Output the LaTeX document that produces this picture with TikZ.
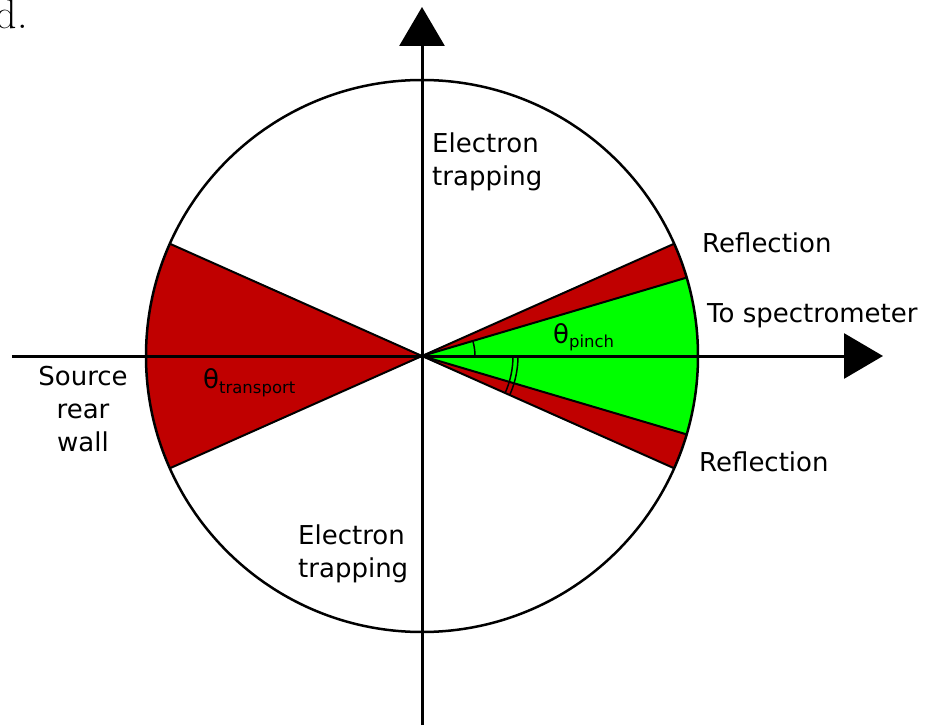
\documentclass[tikz,border=0pt]{standalone}
\usepackage{fontspec}
\newfontfamily\labelfont{DejaVu Sans}
\usepackage{tikz}
\usetikzlibrary{arrows.meta}
\usepackage{xcolor}
\definecolor{reflect}{HTML}{C00000}
\definecolor{spectro}{HTML}{00FF00}
\definecolor{ink}{HTML}{000000}
\newcommand{\thsub}[1]{θ\raisebox{-5pt}{\fontsize{16.5}{18}\selectfont #1}}
\tikzset{
  axis/.style={-{Triangle[length=39pt,width=45pt]},line width=3pt,draw=ink},
  rim/.style={draw=ink,line width=2.5pt},
  wedge/.style={draw=ink,line width=2pt},
  anglearc/.style={draw=ink,line width=1.5pt},
  lbl/.style={font=\labelfont\fontsize{26}{33}\selectfont,inner sep=0pt,
              text=ink}
}

\begin{document}
\begin{tikzpicture}[x=1pt,y=1pt,line join=round]
  \useasboundingbox (-422,-369) rectangle (503,356);
  \def\R{276}
  \coordinate (o) at (0,0);
  \coordinate (west) at (-410,0);
  \coordinate (east) at (461,0);
  \coordinate (south) at (0,-369);
  \coordinate (north) at (0,349);

  % Wedges
  \fill[reflect] (o) -- (156:\R) arc[start angle=156,end angle=204,radius=\R] -- cycle;
  \fill[reflect] (o) -- (-24:\R) arc[start angle=-24,end angle=24,radius=\R] -- cycle;
  \fill[spectro] (o) -- (-16.5:\R) arc[start angle=-16.5,end angle=16.5,radius=\R] -- cycle;
  \foreach \a in {156,204,24,-24,16.5,-16.5}
    \draw[wedge] (o) -- (\a:\R);
  \draw[rim] (o) circle[radius=\R];

  % Angles
  \draw[anglearc] (53,0) arc[start angle=0,end angle=16.5,radius=53];
  \draw[anglearc] (91,0) arc[start angle=0,end angle=-24,radius=91];
  \draw[anglearc] (96,0) arc[start angle=0,end angle=-24,radius=96];

  % Axes
  \draw[axis] (west) -- (east);
  \draw[axis] (south) -- (north);

  % Labels
  \node[lbl,anchor=west,align=left] (traptop) at (10,194) {Electron\\trapping};
  \node[lbl,anchor=west,align=left] (trapbot) at (-124,-198) {Electron\\trapping};
  \node[lbl,anchor=base west] (reflup) at (280,103) {Reflection};
  \node[lbl,anchor=base west] (tospec) at (285,34) {To spectrometer};
  \node[lbl,anchor=base west] (refllow) at (277,-115) {Reflection};
  \node[lbl,align=center] (source) at (-339,-53) {Source\\rear\\wall};
  \node[lbl,anchor=base west] (pinch) at (131,13) {\thsub{pinch}};
  \node[lbl,anchor=base west] (transport) at (-219,-32) {\thsub{transport}};
  \node[font=\fontsize{42}{48}\selectfont,anchor=base east,inner sep=0pt]
    (cut) at (-394,327) {d.};
\end{tikzpicture}
\end{document}
